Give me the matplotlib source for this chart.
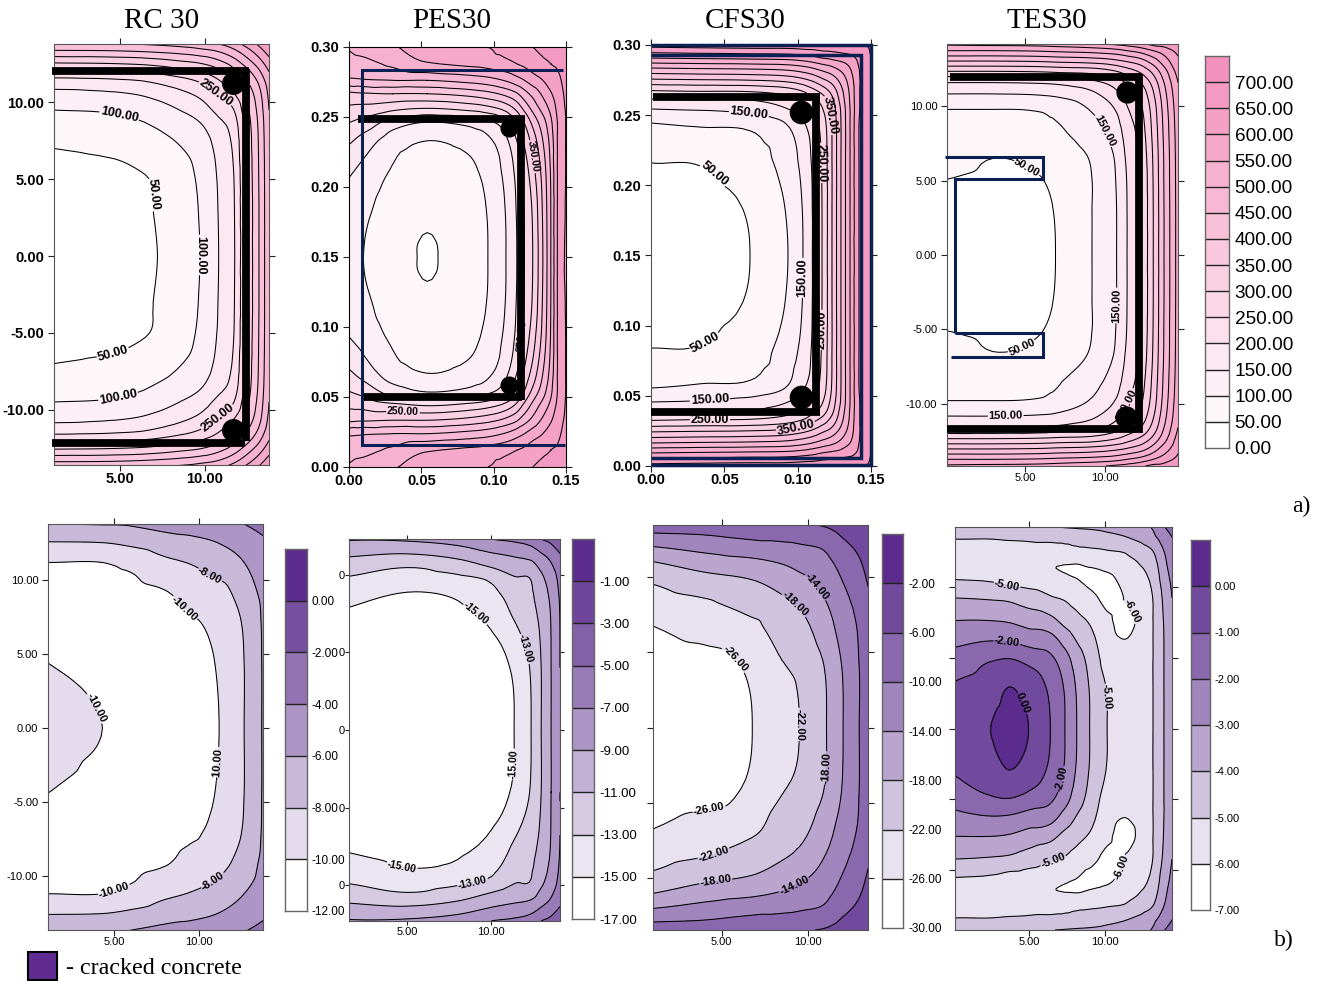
import numpy as np
import matplotlib
matplotlib.use('Agg')
import matplotlib.pyplot as plt
import matplotlib.tri as tri
from matplotlib.colors import LinearSegmentedColormap
from matplotlib.patches import Rectangle

W, H = 1321, 981
plt.rcParams['font.family'] = ['Liberation Sans', 'DejaVu Sans']
plt.rcParams['axes.unicode_minus'] = False
plt.rcParams['contour.negative_linestyle'] = 'solid'

# values, half of each section (the other half is mirrored)
# top row, temperature
rc_t_x = [1.12, 4, 6, 7.2, 8.5, 9.7, 10.8, 11.7, 12.4, 13.1, 13.76]
rc_t_y = [0, 3, 5, 7, 8.5, 9.5, 10.5, 11.3, 12, 12.7, 13.3, 13.8]
rc_t_z = [  # one row per y
    [25, 30, 40, 50, 75, 100, 150, 195, 300, 390, 490],
    [30, 34, 43, 53, 78, 103, 152, 197, 300, 390, 490],
    [36, 39, 45, 55, 80, 108, 155, 200, 302, 392, 490],
    [50, 56, 66, 75, 97, 120, 165, 210, 308, 395, 492],
    [78, 82, 92, 105, 125, 145, 185, 225, 315, 400, 495],
    [100, 104, 115, 128, 150, 175, 215, 250, 330, 410, 500],
    [135, 140, 150, 165, 185, 210, 250, 295, 355, 425, 510],
    [175, 180, 190, 205, 225, 250, 290, 340, 390, 450, 525],
    [240, 244, 252, 262, 280, 300, 335, 385, 430, 485, 550],
    [315, 318, 325, 335, 350, 365, 395, 435, 480, 530, 585],
    [390, 392, 398, 405, 415, 430, 450, 485, 525, 570, 620],
    [445, 447, 452, 458, 468, 480, 500, 530, 565, 605, 650],
]

pes_t_x = [0, .01, .03, .054, .08, .096, .1085, .116, .1213, .127, .134, .1395, .144, .15]
pes_t_y = [0, .012, .0238, .0334, .0438, .0536, .067, .09, .12, .15]
pes_t_z = [  # one row per x
    [505, 480, 440, 340, 290, 252, 208, 155, 120, 105],
    [520, 485, 445, 345, 285, 235, 180, 135, 108, 100],
    [545, 510, 450, 350, 265, 180, 125, 95, 75, 70],
    [570, 545, 450, 350, 250, 150, 100, 75, 55, 47],
    [590, 560, 465, 365, 265, 165, 115, 85, 75, 72],
    [600, 570, 480, 385, 285, 190, 140, 115, 102, 100],
    [620, 585, 505, 415, 320, 235, 190, 165, 152, 150],
    [630, 600, 530, 445, 365, 300, 250, 215, 203, 200],
    [640, 610, 550, 480, 415, 355, 310, 270, 254, 250],
    [650, 625, 575, 515, 465, 415, 370, 330, 305, 300],
    [660, 640, 600, 560, 520, 480, 450, 420, 405, 400],
    [665, 650, 625, 595, 565, 540, 520, 505, 500, 500],
    [670, 655, 640, 625, 610, 600, 600, 600, 600, 600],
    [680, 670, 665, 660, 655, 652, 652, 652, 655, 660],
]

cfs_t_x = [0, .03, .0675, .0934, .1036, .11, .1166, .1234, .1295, .1357, .1418, .15]
cfs_t_y = [0, .0093, .0164, .0243, .0325, .0385, .0456, .0556, .084, .12, .15]
cfs_t_z = [  # one row per x
    [670, 550, 450, 350, 250, 200, 150, 100, 50, 32, 28],
    [675, 555, 455, 355, 255, 205, 155, 108, 51, 36, 34],
    [680, 560, 460, 360, 258, 205, 170, 115, 75, 54, 50],
    [680, 565, 470, 375, 280, 235, 200, 155, 125, 105, 100],
    [685, 575, 485, 395, 305, 260, 225, 195, 165, 152, 150],
    [685, 585, 500, 415, 335, 290, 255, 225, 205, 200, 200],
    [690, 600, 520, 445, 370, 325, 295, 270, 255, 250, 250],
    [690, 610, 540, 475, 420, 390, 370, 355, 350, 350, 350],
    [695, 620, 565, 520, 485, 470, 455, 450, 450, 450, 450],
    [695, 635, 600, 575, 560, 555, 550, 550, 550, 550, 550],
    [695, 660, 650, 645, 645, 645, 645, 650, 650, 650, 650],
    [710, 700, 695, 690, 690, 690, 690, 690, 690, 690, 690],
]

tes_t_x = [.15, 3, 6, 6.9, 9.17, 10.7, 11.35, 12.2, 12.98, 13.65, 14.52]
tes_t_y = [0, 3, 5.1, 6.5, 8, 9.8, 10.84, 11.6, 12.36, 13.05, 13.75, 14.2]
tes_t_z = [  # one row per x
    [20, 28, 50, 70, 88, 100, 150, 200, 300, 400, 500, 560],
    [24, 30, 42, 50, 75, 100, 150, 200, 300, 400, 500, 565],
    [40, 43, 49, 60, 80, 105, 155, 205, 305, 405, 505, 570],
    [50, 52, 60, 70, 88, 115, 160, 210, 310, 410, 510, 575],
    [100, 100, 100, 105, 125, 155, 190, 235, 320, 420, 520, 590],
    [150, 150, 153, 158, 175, 205, 240, 275, 350, 440, 535, 610],
    [200, 200, 202, 208, 220, 245, 270, 305, 375, 455, 550, 620],
    [250, 250, 252, 258, 270, 290, 315, 350, 410, 480, 570, 640],
    [350, 350, 352, 355, 362, 375, 395, 420, 465, 525, 600, 665],
    [450, 450, 452, 453, 458, 468, 482, 500, 530, 575, 625, 670],
    [570, 570, 571, 572, 575, 582, 590, 600, 620, 640, 665, 690],
]

# bottom row, stress
rc_b_x = [1.12, 4.32, 6, 8, 9.5, 11.18, 12.65, 13.76]
rc_b_y = [0, 4.4, 7, 9, 11.2, 12.6, 13.8]
rc_b_z = [  # one row per x
    [-9.4, -10, -10.6, -10.7, -10, -8, -6],
    [-10, -10.5, -10.8, -10.7, -10, -7.9, -5.9],
    [-10.6, -10.9, -10.9, -10.6, -9.5, -7.5, -5.8],
    [-10.9, -10.9, -10.7, -10.2, -8.4, -6.8, -5.3],
    [-10.8, -10.7, -10.3, -9.4, -7.9, -6.5, -5],
    [-10, -9.8, -9.4, -8.8, -7, -5.9, -4.8],
    [-8, -8, -7.8, -7.1, -6, -5.2, -4],
    [-5.85, -5.85, -5.8, -5.6, -5.1, -4.3, -3.4],
]

pes_b_x = [1.55, 5.5, 8, 10, 11.37, 12.38, 12.98, 13.57, 14.1]
pes_b_y = [0, 4, 7.9, 8.9, 9.9, 10.45, 11.15, 12.3]
pes_b_z = [  # one row per x
    [-16.3, -16, -15, -14.2, -13, -12.3, -11, -8.8],
    [-16.5, -16.2, -15.5, -15, -13.6, -13, -11.4, -8.6],
    [-16.4, -16.1, -15.2, -14.6, -13.2, -12.2, -10.7, -8],
    [-16, -15.7, -14.3, -13.5, -12.4, -11.05, -9.6, -7],
    [-15, -14.7, -12.5, -11.9, -11, -10.1, -9, -6.6],
    [-13, -12.8, -11.5, -11.2, -10.8, -10, -8.5, -6],
    [-11, -11, -10.3, -9.9, -9.3, -8.6, -7.5, -5],
    [-9, -9, -8.8, -8.5, -8, -7.4, -6.5, -4.4],
    [-7, -7, -6.9, -6.7, -6.3, -5.9, -5.3, -3.5],
]

cfs_b_x = [1.03, 4, 6.77, 8.5, 9.5, 11.06, 12.02, 12.95, 13.46]
cfs_b_y = [0, 4, 6.73, 8.3, 9.5, 11, 12, 12.9, 13.43]
cfs_b_z = [  # one row per x
    [-28.5, -27.8, -26, -23.7, -22, -18, -14, -10, -7.4],
    [-28, -27.4, -24.5, -22.5, -20, -16, -12.5, -9.5, -7],
    [-26, -25.3, -23, -20, -18.6, -14.8, -11.2, -8.8, -7],
    [-23.7, -22.3, -19.8, -18.7, -16.8, -13.6, -10.8, -8.5, -6.6],
    [-22, -21.2, -19.2, -17.5, -15.5, -12.6, -10.4, -8.2, -6.3],
    [-18, -17.6, -15.5, -14, -12.7, -10.8, -9.3, -7.2, -5.5],
    [-14, -13.7, -12.2, -11.1, -10.1, -8.5, -6.9, -5.4, -4.5],
    [-10, -10, -9.5, -8.7, -7.8, -6.3, -5.3, -4.5, -3.8],
    [-8.2, -8.1, -7.3, -6.6, -5.9, -5, -4.5, -4, -3.5],
]

tes_b_x = [.13, 2.47, 3.7, 4.97, 6.4, 7.36, 8.14, 8.99, 10.14, 11.5, 13.16, 13.88, 14.41]
tes_b_y = [0, 2.93, 4.92, 6.1, 7.6, 9.2, 10.5, 11.4, 12.5, 13.35, 14.2]
tes_b_z = [  # one row per x
    [-.6, -.9, -1.6, -2.2, -3, -4, -5, -5.3, -5.3, -5, -4.6],
    [0, -.5, -1.1, -1.95, -3, -4.1, -5.1, -5.4, -5.3, -5, -4.5],
    [.35, 0, -1, -2, -3.1, -4.2, -5.3, -5.5, -5.3, -4.95, -4.45],
    [0, -.4, -1.3, -2.3, -3.4, -4.5, -5.4, -5.6, -5.3, -4.9, -4.3],
    [-1, -1.2, -1.8, -2.5, -3.7, -4.9, -5.6, -5.95, -5.3, -4.85, -4.02],
    [-2, -2.1, -2.6, -3.3, -4.3, -5.1, -5.8, -6.05, -5.25, -4.8, -3.95],
    [-3, -3.1, -3.5, -4, -4.7, -5.4, -5.98, -6.1, -5.2, -4.7, -3.9],
    [-4, -4.05, -4.3, -4.6, -5.1, -5.7, -6.2, -5.98, -5.15, -4.6, -3.85],
    [-5, -5.05, -5.4, -5.6, -5.85, -6.2, -6.2, -5.8, -5.05, -4.4, -3.7],
    [-5.5, -5.5, -5.75, -5.95, -6.2, -5.9, -5.6, -5.3, -4.85, -4.1, -3.4],
    [-5, -5, -5, -5, -5, -4.98, -4.75, -4.5, -4, -3.3, -2.9],
    [-4, -4, -4, -4, -3.95, -3.8, -3.5, -3.3, -3, -2.6, -2.05],
    [-3.6, -3.6, -3.55, -3.5, -3.3, -3, -2.8, -2.6, -2.4, -2.05, -1.8],
]

# contour levels, the last one only closes the top class of the scale
temp_levels = list(range(0, 751, 50))
rc_b_levels = [-12, -10, -8, -6, -4, -2, 0, 2]
pes_b_levels = [-17, -15, -13, -11, -9, -7, -5, -3, -1, 1]
cfs_b_levels = [-30, -26, -22, -18, -14, -10, -6, -2, 2]
tes_b_levels = [-7, -6, -5, -4, -3, -2, -1, 0, 1]

# contour labels: level -> points along the line, optional shown text
rc_t_labels = {50: [(6.8, 4), (4.6, -6.4)], 100: [(5, 9.4), (9.7, .07), (4.9, -9.2)],
               250: [(10.4, 10.3), (10.5, -10.2)]}
pes_t_labels = {300: [(.0373, .0386)], 250: [(.1227, .093)], 350: [(.1227, .221)]}
cfs_t_labels = {50: [(.0443, .2096), (.0368, .0884)],
                150: [(.0668, .2516), (.105, .134), (.0402, .0456)],
                250: [(.1166, .216), (.1152, .097), (.0402, .0321)],
                350: [(.122, .25), (.0988, .0271)]}
tes_t_labels = {50: [(5.06, 5.7), (4.7, -5.95)], 150: [(9.8, 8.3), (10.7, -3.4), (3.8, -10.9)],
                250: [(10.9, -9.9)]}
rc_b_labels = {-8: [(10.7, 10.47), (10.8, -10.3)],
               -10: [(9.35, 8.45), (3.94, 1.35), (11.18, -2.4), (4.94, -10.75)]}
pes_b_labels = {-15: [(9, 7.35), (4.7, -8.8), (11.25, -2.2)], -13: [(11.96, 5.2), (8.9, -9.8)]}
cfs_b_labels = {-14: [(10.43, 9.3), (9.24, -10.6)], -18: [(9.17, 8.07), (10.93, -2.68), (4.7, -10.6)],
                -22: [(9.5, .2), (4.67, -8.8)], -26: [(5.58, 4.36), (4.32, -5.64)]}
tes_b_labels = {-5: [(3.53, 9.95), (9.9, 2.2), (6.55, -9.2)], -2: [(3.53, 5.97), (6.84, -3.5)],
                0: [(4.68, 1.83)], -6: [(11.44, 8.1), (10.86, -9.7)]}

NAVY = '#0B2052'
pink = LinearSegmentedColormap.from_list('pink', ['#FFFFFF', '#F391BD'])
purple = LinearSegmentedColormap.from_list('purple', ['#FFFFFF', '#5B2C8D'])


def add_axes(left, top, right, bottom):
    return fig.add_axes([left / W, 1 - bottom / H, (right - left) / W, (bottom - top) / H])


def mirror(y, z, center):
    y = np.array(y, dtype=float)
    both = np.r_[y, 2 * center - y]
    z2 = np.vstack([z, z])
    both, idx = np.unique(both.round(6), return_index=True)
    return both, z2[idx]


def class_colors(levels, cmap):
    n = len(levels) - 1
    return [cmap(i / (n - 1)) for i in range(n)]


def draw_panel(box, xlim, ylim, x, y, z, center, levels, cmap, labels, xticks, yticks,
               xlabels, ylabels, tick_size, bold=False, label_size=8, label_text=None,
               tick_length=4, tick_pad=3):
    ax = add_axes(*box)
    yy, zz = mirror(y, z, center)
    # the library's cubic refiner rounds the corners of the contours
    xg, yg = np.meshgrid(x, yy)
    mesh = tri.Triangulation(xg.ravel(), yg.ravel())
    cubic = tri.CubicTriInterpolator(mesh, zz.ravel(), kind='geom')
    fine, fz = tri.UniformTriRefiner(mesh).refine_field(zz.ravel(), triinterpolator=cubic, subdiv=3)
    ax.tricontourf(fine, fz, levels=levels, colors=class_colors(levels, cmap))
    plain = [v for v in levels[1:-1] if v not in labels]
    ax.tricontour(fine, fz, levels=plain, colors='black', linewidths=.75, linestyles='solid')
    # labelled levels get their own contour set, clabel needs that for manual points
    for lev, pts in labels.items():
        cs = ax.tricontour(fine, fz, levels=[lev], colors='black', linewidths=.75, linestyles='solid')
        text = (label_text or {}).get(lev, '%.2f' % lev)
        lab = ax.clabel(cs, manual=pts, fmt=lambda v, t=text: t,
                        fontsize=label_size, inline=True, inline_spacing=1)
        for t in lab:
            t.set_fontweight('bold')
    ax.set_xlim(*xlim)
    ax.set_ylim(*ylim)
    ax.set_xticks(xticks)
    ax.set_xticklabels(xlabels, fontsize=tick_size, fontweight='bold' if bold else 'normal')
    ax.set_yticks(yticks)
    ax.set_yticklabels(ylabels, fontsize=tick_size, fontweight='bold' if bold else 'normal')
    ax.tick_params(top=True, right=True, length=tick_length, width=.8, pad=tick_pad, color='#222222')
    ax.tick_params(axis='x', pad=1)
    for s in ax.spines.values():
        s.set_linewidth(.8)
        s.set_color('#555555')
    return ax


def draw_scale(box, levels, cmap, size, pad=4):
    ax = add_axes(*box)
    colors = class_colors(levels, cmap)
    ax.bar(.5, np.diff(levels), bottom=levels[:-1], width=1, color=colors, linewidth=0)
    ax.hlines(levels[1:-1], 0, 1, colors='#222222', linewidth=1)
    ax.set_xlim(0, 1)
    ax.set_ylim(levels[0], levels[-1])
    ax.set_xticks([])
    ax.yaxis.tick_right()
    ax.set_yticks(levels[:-1])
    ax.set_yticklabels(['%.2f' % v for v in levels[:-1]], fontsize=size)
    ax.tick_params(axis='y', length=0, pad=pad)
    for s in ax.spines.values():
        s.set_linewidth(1)
        s.set_color('#666666')


def bar(ax, xs, ys, width=5.6, color='black'):
    ax.plot(xs, ys, color=color, lw=width, solid_capstyle='butt', solid_joinstyle='miter',
            clip_on=False, zorder=6)


def ball(ax, xs, ys, diam):
    ax.plot(xs, ys, 'o', color='black', ms=diam, mew=0, zorder=7)


fig = plt.figure(figsize=(W / 100, H / 100), dpi=100)

t5 = ['5.00', '10.00']
y_cm = [-10, -5, 0, 5, 10]
y_cm_text = ['-10.00', '-5.00', '0.00', '5.00', '10.00']
m_x = [0, .05, .10, .15]
m_y = [0, .05, .10, .15, .20, .25, .30]
m_x_text = ['0.00', '0.05', '0.10', '0.15']
m_y_text = ['0.00', '0.05', '0.10', '0.15', '0.20', '0.25', '0.30']

# top row
ax = draw_panel((54, 44, 269, 465), (1.12, 13.76), (-13.6, 13.8), rc_t_x, rc_t_y, np.array(rc_t_z), 0,
                temp_levels, pink, rc_t_labels, [5, 10], y_cm, t5, y_cm_text, 10.5, bold=True, label_size=9)
bar(ax, [1.0, 12.6], [12.05, 12.05])
bar(ax, [12.4, 12.4], [12.2, -12.05])
bar(ax, [1.0, 12.35], [-12.2, -12.2])
ball(ax, [11.65, 11.65], [11.27, -11.33], 16.5)

ax = draw_panel((349, 47, 566, 467), (0, .15), (0, .30), pes_t_x, pes_t_y, np.array(pes_t_z).T, .15,
                temp_levels, pink, pes_t_labels, m_x, m_y, m_x_text, m_y_text, 10.5, bold=True, label_size=7.5,
                label_text={300: '250.00'})
bar(ax, [.0062, .1216], [.2486, .2486])
bar(ax, [.119, .119], [.2510, .0477])
bar(ax, [.0097, .1195], [.05, .05])
ball(ax, [.1106, .1106], [.242, .0586], 13)
bar(ax, [.148, .009, .009, .149], [.2836, .2836, .0157, .0157], 2.2, NAVY)
for s in ax.spines.values():
    s.set_color('black')

ax = draw_panel((651, 45, 871, 466), (0, .15), (0, .30), cfs_t_x, cfs_t_y, np.array(cfs_t_z).T, .15,
                temp_levels, pink, cfs_t_labels, m_x, m_y, m_x_text, m_y_text, 10.5, bold=True, label_size=9)
bar(ax, [.0014, .115], [.2632, .2632])
bar(ax, [.1125, .1125], [.2655, .036])
bar(ax, [0, .115], [.0385, .0385])
ball(ax, [.1023, .1023], [.2523, .0492], 17)
bar(ax, [0, .1432, .1432, 0], [.293, .293, .0057, .0057], 2.5, NAVY)
bar(ax, [0, .15, .15, 0], [.30, .30, .0007, .0007], 2.5, NAVY)

ax = draw_panel((947, 44, 1178, 466), (.15, 14.52), (-14.2, 14.2), tes_t_x, tes_t_y, np.array(tes_t_z).T, 0,
                temp_levels, pink, tes_t_labels, [5, 10], y_cm, t5, y_cm_text, 8, label_size=8)
bar(ax, [.33, 12.3], [12, 12])
bar(ax, [12.1, 12.1], [12.2, -11.95])
bar(ax, [.15, 12.0], [-11.7, -11.7])
ball(ax, [11.35, 11.3], [11, -10.9], 16)
bar(ax, [.02, 6.12, 6.12, .64, .64], [6.6, 6.6, 5.12, 5.12, -5.25], 2.2, NAVY)
bar(ax, [.64, 6.12, 6.12, .4], [-5.25, -5.25, -6.87, -6.87], 2.2, NAVY)

draw_scale((1205, 56, 1229, 448), temp_levels, pink, 13.7)

# bottom row
draw_panel((48, 524, 263, 930), (1.12, 13.76), (-13.65, 13.8), rc_b_x, rc_b_y, np.array(rc_b_z).T, 0,
           rc_b_levels, purple, rc_b_labels, [5, 10], y_cm, t5, y_cm_text, 8, label_size=8)
draw_scale((285, 549, 307, 911), rc_b_levels, purple, 8.5, pad=3)

draw_panel((349, 539, 560, 921), (1.55, 14.1), (-12.3, 12.3), pes_b_x, pes_b_y, np.array(pes_b_z).T, 0,
           pes_b_levels, purple, pes_b_labels, [5, 10], y_cm, t5, ['0'] * 5, 8, label_size=7.5,
           tick_length=3, tick_pad=0)
draw_scale((572, 539, 594, 919), pes_b_levels, purple, 9.5)

draw_panel((653, 525, 868, 930), (1.03, 13.46), (-13.43, 13.43), cfs_b_x, cfs_b_y, np.array(cfs_b_z).T, 0,
           cfs_b_levels, purple, cfs_b_labels, [5, 10], y_cm, t5, [''] * 5, 8, label_size=8)
draw_scale((882, 534, 903, 928), cfs_b_levels, purple, 8.5)

draw_panel((955, 527, 1172, 930), (.13, 14.41), (-14.2, 14.2), tes_b_x, tes_b_y, np.array(tes_b_z).T, 0,
           tes_b_levels, purple, tes_b_labels, [5, 10], y_cm, t5, [''] * 5, 8, label_size=8)
draw_scale((1191, 540, 1210, 910), tes_b_levels, purple, 8, pad=3)

# titles and notes
for name, cx in [('RC 30', 162), ('PES30', 452), ('CFS30', 745), ('TES30', 1047)]:
    fig.text(cx / W, 1 - 21 / H, name, ha='center', va='center', fontsize=21, family='Liberation Serif')
fig.text(1301 / W, 1 - 506 / H, 'a)', ha='center', va='center', fontsize=17, family='Liberation Serif')
fig.text(1284 / W, 1 - 940 / H, 'b)', ha='center', va='center', fontsize=17, family='Liberation Serif')
fig.add_artist(Rectangle((28 / W, 1 - 980 / H), 29 / W, 28 / H, transform=fig.transFigure,
                         facecolor='#612C91', edgecolor='black', linewidth=1.5))
fig.text(66 / W, 1 - 969 / H, '- cracked concrete', ha='left', va='center', fontsize=17.3,
         family='Liberation Serif')

fig.savefig('out.png', dpi=100)
